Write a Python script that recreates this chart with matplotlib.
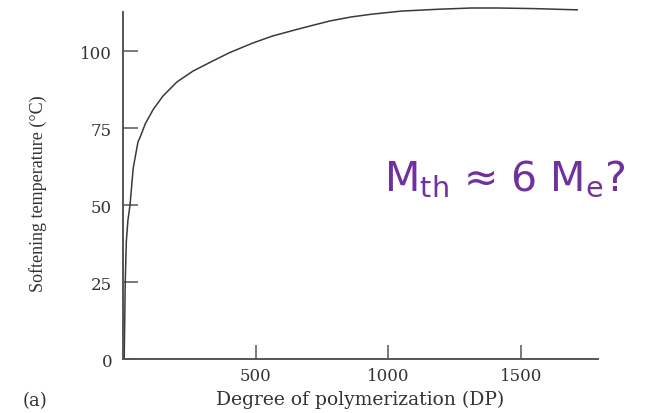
import matplotlib.pyplot as plt


# softening temperature vs degree of polymerization
dp_values = [4, 6, 8, 12, 18, 26, 38, 56, 64, 83, 113, 150, 203, 263, 338,
             401, 488, 563, 653, 720, 780, 860, 938, 1050, 1189, 1313, 1413,
             1550, 1711]
temp_values = [0, 12, 25, 38, 45, 50, 62, 70.5, 72, 76.3, 81, 85.4, 90, 93.5,
               96.8, 99.5, 102.6, 104.9, 107.0, 108.5, 109.8, 111.1, 112,
               113, 113.6, 114, 114, 113.8, 113.4]

x_ticks = [500, 1000, 1500]
y_ticks = [0, 25, 50, 75, 100]

X_LABEL = "Degree of polymerization (DP)"
Y_LABEL = "Softening temperature (\u00b0C)"
PANEL_LABEL = "(a)"
NOTE = "M$_\\mathregular{th}$ \u2248 6 M$_\\mathregular{e}$?"

AXIS_COLOR = "#555555"
TEXT_COLOR = "#333333"
NOTE_COLOR = "#7030A0"


def main():
    fig = plt.figure(figsize=(6.48, 4.14), dpi=100)
    ax = fig.add_axes([0.19, 0.1304, 0.733, 0.8382])

    ax.plot(dp_values, temp_values, color="#3a3a3a", linewidth=1.1,
            clip_on=False, solid_joinstyle="round")

    ax.set_xlim(0, 1790)
    ax.set_ylim(0, 112.7)
    ax.set_xticks(x_ticks)
    ax.set_yticks(y_ticks)

    for side in ["top", "right"]:
        ax.spines[side].set_visible(False)
    for side in ["left", "bottom"]:
        ax.spines[side].set_color(AXIS_COLOR)
        ax.spines[side].set_linewidth(1.4)

    ax.tick_params(axis="y", direction="in", length=11, width=1.1,
                   color=AXIS_COLOR, pad=8, labelsize=12,
                   labelcolor=TEXT_COLOR)
    ax.tick_params(axis="x", direction="in", length=10, width=1.1,
                   color=AXIS_COLOR, pad=6, labelsize=12,
                   labelcolor=TEXT_COLOR)
    for label in ax.get_xticklabels() + ax.get_yticklabels():
        label.set_family("DejaVu Serif")

    ax.set_xlabel(X_LABEL, family="DejaVu Serif", fontsize=13.5,
                  color=TEXT_COLOR)
    ax.xaxis.set_label_coords(0.5, -0.088)
    ax.set_ylabel(Y_LABEL, family="Liberation Serif", fontsize=13,
                  color=TEXT_COLOR)
    ax.yaxis.set_label_coords(-0.16, 0.48)

    fig.text(0.054, 0.02, PANEL_LABEL, family="DejaVu Serif", fontsize=13,
             color=TEXT_COLOR, ha="center", va="baseline")

    fig.text(0.779, 0.54, NOTE, family="DejaVu Sans", fontsize=29.5,
             color=NOTE_COLOR, ha="center", va="baseline")

    fig.savefig("out.png", dpi=100)
    plt.close(fig)


if __name__ == "__main__":
    main()
